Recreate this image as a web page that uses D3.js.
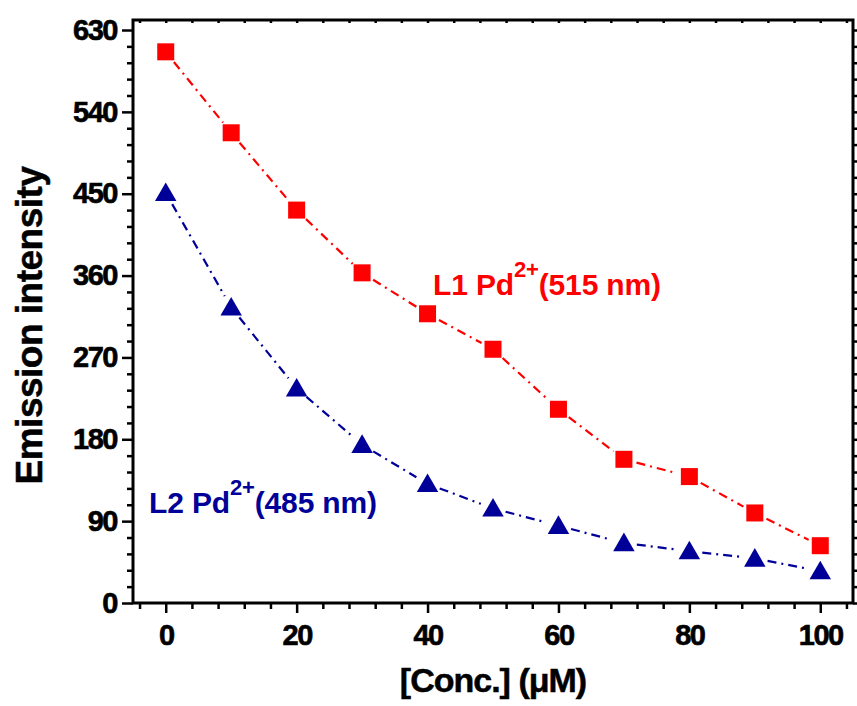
<!DOCTYPE html>
<html>
<head>
<meta charset="utf-8">
<script src="https://cdn.jsdelivr.net/npm/d3@7"></script>
<style>
  body { margin: 0; background: #fff; }
  svg { display: block; font-family: "Liberation Sans", Arial, sans-serif; font-weight: bold; }
</style>
</head>
<body>
<div id="chart"></div>
<script>
// Emission intensity vs concentration (Pd2+ titration)
const conc = [0, 10, 20, 30, 40, 50, 60, 70, 80, 90, 100];
const l1Values = [606, 517, 432, 363, 318, 279, 213, 158, 139, 99, 63];
const l2Values = [451, 325, 236, 174, 131, 104, 85, 66, 57, 49, 35];
const xTicks = [0, 20, 40, 60, 80, 100];
const yTicks = [0, 90, 180, 270, 360, 450, 540, 630];

const width = 857, height = 706;
const margin = { top: 20, right: 4, bottom: 103, left: 133 };

const svg = d3.select('#chart').append('svg')
  .attr('width', width)
  .attr('height', height);

const x = d3.scaleLinear().domain([-5, 105]).range([margin.left, width - margin.right]);
const y = d3.scaleLinear().domain([0, 641]).range([height - margin.bottom, margin.top]);

const xMinor = d3.range(-4, 105, 4).filter(v => v % 20 !== 0);
const yMinor = d3.range(0, 641, 18).filter(v => v % 90 !== 0);

// bottom axis: major + minor ticks, pointing out
const bottom = svg.append('g').attr('transform', `translate(0,${y(0)})`);
bottom.call(d3.axisBottom(x).tickValues(xTicks).tickSize(10).tickPadding(11).tickFormat(d3.format('d')));
bottom.append('g').call(d3.axisBottom(x).tickValues(xMinor).tickSize(6).tickFormat(''));

const left = svg.append('g').attr('transform', `translate(${x(-5)},0)`);
left.call(d3.axisLeft(y).tickValues(yTicks).tickSize(11).tickPadding(5).tickFormat(d3.format('d')));
left.append('g').call(d3.axisLeft(y).tickValues(yMinor).tickSize(6).tickFormat(''));

// top and right small ticks
svg.append('g').attr('transform', `translate(0,${y(641)})`)
  .call(d3.axisTop(x).tickValues(d3.range(-4, 105, 4)).tickSize(-3).tickFormat(''));
svg.append('g').attr('transform', `translate(${x(105)},0)`)
  .call(d3.axisRight(y).tickValues(d3.range(0, 641, 18)).tickSize(4).tickFormat(''));

svg.selectAll('.domain').remove();
svg.selectAll('.tick line').attr('stroke', '#000').attr('stroke-width', 2.5);
svg.selectAll('.tick text')
  .attr('fill', '#000')
  .attr('stroke', '#000')
  .attr('stroke-width', 0.6)
  .attr('font-size', 29)
  .attr('letter-spacing', -1.5)
  .attr('font-family', '"Liberation Sans", Arial, sans-serif')
  .attr('font-weight', 'bold');

// frame
svg.append('rect')
  .attr('x', x(-5)).attr('y', y(641))
  .attr('width', x(105) - x(-5)).attr('height', y(0) - y(641))
  .attr('fill', 'none').attr('stroke', '#000').attr('stroke-width', 3);

// dash-dot lines with gaps at the symbols
function drawSeries(values, color) {
  const pts = conc.map((c, i) => [x(c), y(values[i])]);
  const segs = d3.pairs(pts).map(([a, b]) => {
    const dx = b[0] - a[0], dy = b[1] - a[1];
    const len = Math.hypot(dx, dy), cut = 13 / len;
    return [a[0] + dx * cut, a[1] + dy * cut, b[0] - dx * cut, b[1] - dy * cut];
  });
  svg.append('g').selectAll('line').data(segs).join('line')
    .attr('x1', d => d[0]).attr('y1', d => d[1])
    .attr('x2', d => d[2]).attr('y2', d => d[3])
    .attr('stroke', color).attr('stroke-width', 2.2)
    .attr('stroke-dasharray', '9,5,2,5');
}

drawSeries(l1Values, '#ff0000');
drawSeries(l2Values, '#000099');

svg.append('g').selectAll('rect').data(conc).join('rect')
  .attr('x', (d, i) => x(d) - 8.5)
  .attr('y', (d, i) => y(l1Values[i]) - 8.5)
  .attr('width', 17).attr('height', 17)
  .attr('fill', '#ff0000');

const tri = d3.symbol().type(d3.symbolTriangle).size(200);
svg.append('g').selectAll('path').data(conc).join('path')
  .attr('d', tri)
  .attr('transform', (d, i) => `translate(${x(d)},${y(l2Values[i]) + 2})`)
  .attr('fill', '#000099');

// series labels
function seriesLabel(px, py, name, nm, color) {
  const t = svg.append('text').attr('x', px).attr('y', py)
    .attr('fill', color).attr('font-size', 30).attr('letter-spacing', -0.15);
  t.append('tspan').text(name + ' Pd');
  t.append('tspan').attr('dy', -18).attr('font-size', 22).text('2+');
  t.append('tspan').attr('dy', 18).text(`(${nm} nm)`);
}
seriesLabel(433, 295, 'L1', 515, '#ff0000');
seriesLabel(149, 513, 'L2', 485, '#000099');

// axis titles
svg.append('text')
  .attr('x', x(50)).attr('y', 692)
  .attr('text-anchor', 'middle').attr('font-size', 34).attr('letter-spacing', -1)
  .attr('stroke', '#000').attr('stroke-width', 0.5)
  .text('[Conc.] (\u03bcM)');

svg.append('text')
  .attr('transform', `translate(42,${(y(0) + y(641)) / 2 + 14}) rotate(-90)`)
  .attr('text-anchor', 'middle').attr('font-size', 37).attr('letter-spacing', -0.5)
  .attr('stroke', '#000').attr('stroke-width', 0.5)
  .text('Emission intensity');
</script>
</body>
</html>
